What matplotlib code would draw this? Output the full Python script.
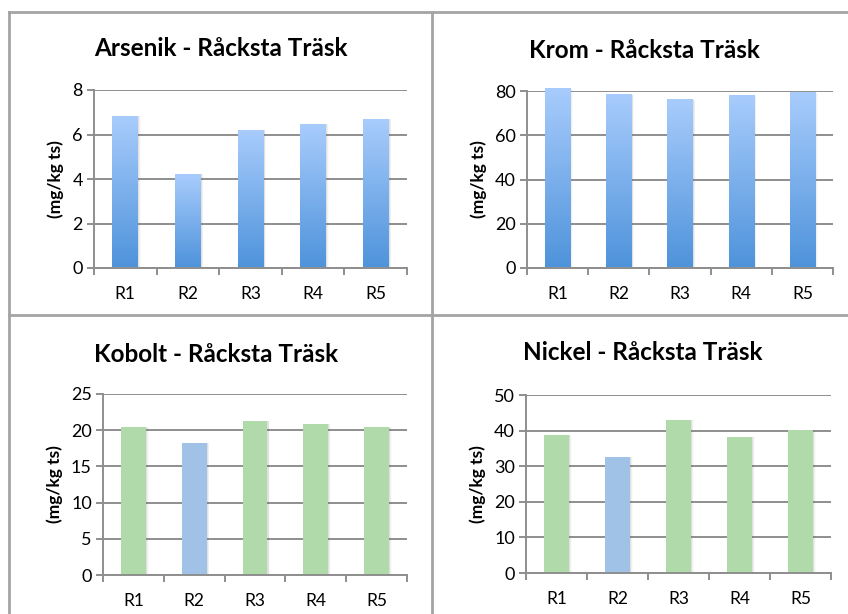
import numpy as np
import matplotlib
matplotlib.use("Agg")
import matplotlib.pyplot as plt
from matplotlib.colors import LinearSegmentedColormap
from matplotlib.patches import Rectangle
from matplotlib.lines import Line2D

plt.rcParams['font.family'] = ['Lato', 'DejaVu Sans']

stations = ["R1", "R2", "R3", "R4", "R5"]

arsenik = [6.82, 4.22, 6.19, 6.46, 6.68]
krom = [81.0, 78.2, 76.0, 77.8, 79.2]
kobolt = [20.5, 18.3, 21.3, 20.8, 20.5]
nickel = [38.7, 32.6, 43.1, 38.3, 40.2]

titles = ["Arsenik - Råcksta Träsk", "Krom - Råcksta Träsk",
          "Kobolt - Råcksta Träsk", "Nickel - Råcksta Träsk"]
ylims = [8, 80, 25, 50]
ysteps = [2, 20, 5, 10]
ylabel = "(mg/kg ts)"

GREEN = "#B0DAA9"
LIGHTBLUE = "#A0C2E7"
GRID = "#8E8E8E"
FRAME = "#A3A3A3"

W, H = 848, 614
fig = plt.figure(figsize=(W / 100, H / 100), dpi=100)

grad = LinearSegmentedColormap.from_list("bargrad", ["#4E93DB", "#A8CCFC"])


def px_axes(x0, y0, x1, y1):
    return fig.add_axes([x0 / W, 1 - y1 / H, (x1 - x0) / W, (y1 - y0) / H])


def style_axes(ax, ymax, step):
    ax.set_xlim(-0.5, len(stations) - 0.5)
    ax.set_ylim(0, ymax)
    ax.set_yticks(np.arange(0, ymax + step / 2, step))
    ax.yaxis.grid(True, color=GRID, linewidth=1.4)
    ax.set_axisbelow(True)
    for s in ("top", "right"):
        ax.spines[s].set_visible(False)
    for s in ("left", "bottom"):
        ax.spines[s].set_color(GRID)
        ax.spines[s].set_linewidth(1.4)
    ax.set_xticks(np.arange(len(stations)))
    ax.set_xticklabels(stations, fontsize=12.5)
    ax.tick_params(axis="x", length=0, pad=13)
    # category boundary ticks below the x axis
    ax.set_xticks(np.arange(-0.5, len(stations)), minor=True)
    ax.tick_params(axis="x", which="minor", length=5, color=GRID, width=1.4)
    ax.tick_params(axis="y", length=5, color=GRID, width=1.4, labelsize=13, pad=3)
    ax.set_ylabel(ylabel, fontsize=12.5, fontweight="bold", labelpad=6)


def draw_shadow(ax, x, h, w):
    for k, a in enumerate([0.10, 0.06, 0.03]):
        ax.add_patch(Rectangle((x - w / 2 + 0.02 + 0.012 * k, 0), w, h,
                               facecolor="#606060", alpha=a, edgecolor="none",
                               zorder=1.5, clip_on=False))


def gradient_bars(ax, values, ymax):
    w = 0.41
    img = np.linspace(0, 1, 256).reshape(-1, 1)
    for i, v in enumerate(values):
        draw_shadow(ax, i, v, w)
        im = ax.imshow(img, cmap=grad, origin="lower", aspect="auto",
                       extent=(i - w / 2, i + w / 2, 0, v), zorder=2)
        im.set_clip_on(False)
    ax.set_xlim(-0.5, len(stations) - 0.5)
    ax.set_ylim(0, ymax)


def flat_bars(ax, values, colors):
    w = 0.41
    x = np.arange(len(values))
    for i, v in enumerate(values):
        draw_shadow(ax, i, v, w)
    ax.bar(x, values, width=w, color=colors, zorder=2)


axes_px = [(94, 90, 407, 268), (527, 91, 833, 268),
           (103, 394, 407, 575), (526, 395, 831, 573)]
title_pos = [(221, 48), (644, 50), (216, 354), (643, 353)]
data = [arsenik, krom, kobolt, nickel]
bar_colors = [GREEN, LIGHTBLUE, GREEN, GREEN, GREEN]

for k in range(4):
    ax = px_axes(*axes_px[k])
    if k < 2:
        gradient_bars(ax, data[k], ylims[k])
    else:
        flat_bars(ax, data[k], bar_colors)
    style_axes(ax, ylims[k], ysteps[k])
    tx, ty = title_pos[k]
    fig.text(tx / W, 1 - ty / H, titles[k], fontsize=17.5, fontweight="bold",
             ha="center", va="center")

# chart frames
frame_lines = [
    ((9, 9), (12, 614)),
    ((9, 848), (12, 12)),
    ((431.5, 431.5), (12, 614)),
    ((9, 848), (315, 315)),
]
for xs, ys in frame_lines:
    fig.add_artist(Line2D([x / W for x in xs], [1 - y / H for y in ys],
                          color=FRAME, linewidth=2.0))

fig.savefig("out.png", dpi=100)
